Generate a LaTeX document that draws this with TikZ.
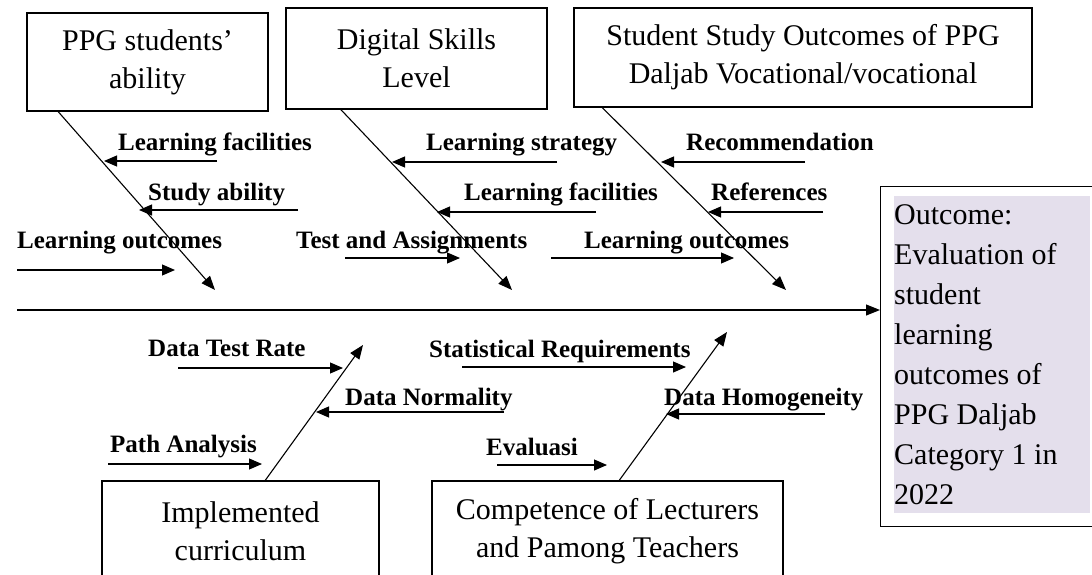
\documentclass[tikz,border=0pt]{standalone}
\usepackage{fontspec}
\setmainfont{Liberation Serif}
\usetikzlibrary{arrows.meta}
\definecolor{shade}{RGB}{228,223,236}
\tikzstyle{cause}=[draw=black,line width=1.1pt,align=center,inner sep=2pt,font=\fontsize{30}{38}\selectfont]
\tikzstyle{factor}=[anchor=base west,inner sep=0pt,font=\fontsize{25}{30}\selectfont\bfseries]
\tikzstyle{bone}=[line width=1.1pt,-{Triangle[length=14pt,width=11pt]}]
\tikzstyle{twig}=[line width=1.1pt,-{Triangle[length=13pt,width=11pt]}]
\tikzstyle{effect}=[draw=black,line width=1.1pt,anchor=north west,minimum width=230pt,minimum height=340pt]
\tikzstyle{shaded}=[fill=shade,anchor=north west,inner sep=0pt,text width=196pt,align=flush left,minimum height=317pt,font=\fontsize{30}{40}\selectfont]

\begin{document}
\begin{tikzpicture}[x=1pt,y=-1pt]
    \useasboundingbox (0,0) rectangle (1092,575);

    \node[cause,minimum width=241pt,minimum height=98pt] (ability) at (147.5,62) {PPG students'\\ability};
    \node[cause,minimum width=261pt,minimum height=101pt] (digital) at (416.5,58.5) {Digital Skills\\Level};
    \node[cause,minimum width=458pt,minimum height=99pt] (study) at (803,57.5) {Student Study Outcomes of PPG\\Daljab Vocational/vocational};
    \node[cause,minimum width=277pt,minimum height=100pt] (curriculum) at (240.5,531) {Implemented\\curriculum};
    \node[cause,minimum width=351pt,minimum height=100pt] (competence) at (607.5,531) {Competence of Lecturers\\and Pamong Teachers};

    \node[effect] (result) at (880,186) {};
    \node[shaded] (resulttext) at (894,196) {Outcome:\\Evaluation of\\student\\learning\\outcomes of\\PPG Daljab\\Category 1 in\\2022};

    \coordinate (tail) at (17,310);
    \draw[bone] (tail) -- (tail -| result.west);

    \coordinate (t1) at (215,290);
    \coordinate (t2) at (512,290);
    \coordinate (t3) at (786,290);
    \coordinate (t4) at (363,345);
    \coordinate (t5) at (727,332);
    \draw[bone] (ability.209) -- (t1);
    \draw[bone] (digital.214) -- (t2);
    \draw[bone] (study.194) -- (t3);
    \draw[bone] (curriculum.64) -- (t4);
    \draw[bone] (competence.77) -- (t5);

    \node[factor] (facil1) at (118,150) {Learning facilities};
    \coordinate (facil1a) at (217,161);
    \coordinate (facil1b) at (104,161);
    \draw[twig] (facil1a) -- (facil1b);

    \node[factor] (studyab) at (148,200) {Study ability};
    \coordinate (studyaba) at (298,210);
    \coordinate (studyabb) at (139,210);
    \draw[twig] (studyaba) -- (studyabb);

    \node[factor] (outc1) at (17,248) {Learning outcomes};
    \coordinate (outc1a) at (17,270);
    \coordinate (outc1b) at (175,270);
    \draw[twig] (outc1a) -- (outc1b);

    \node[factor] (strat) at (426,150) {Learning strategy};
    \coordinate (strata) at (557,162);
    \coordinate (stratb) at (392,162);
    \draw[twig] (strata) -- (stratb);

    \node[factor] (facil2) at (464,200) {Learning facilities};
    \coordinate (facil2a) at (596,212);
    \coordinate (facil2b) at (437,212);
    \draw[twig] (facil2a) -- (facil2b);

    \node[factor] (tests) at (296,248) {Test and Assignments};
    \coordinate (testsa) at (345,258);
    \coordinate (testsb) at (460,258);
    \draw[twig] (testsa) -- (testsb);

    \node[factor] (outc2) at (584,248) {Learning outcomes};
    \coordinate (outc2a) at (551,258);
    \coordinate (outc2b) at (734,258);
    \draw[twig] (outc2a) -- (outc2b);

    \node[factor] (recom) at (686,150) {Recommendation};
    \coordinate (recoma) at (805,162);
    \coordinate (recomb) at (661,162);
    \draw[twig] (recoma) -- (recomb);

    \node[factor] (refs) at (711,200) {References};
    \coordinate (refsa) at (823,212);
    \coordinate (refsb) at (708,212);
    \draw[twig] (refsa) -- (refsb);

    \node[factor] (rate) at (148,356) {Data Test Rate};
    \coordinate (ratea) at (178,368);
    \coordinate (rateb) at (343,368);
    \draw[twig] (ratea) -- (rateb);

    \node[factor] (normal) at (345,405) {Data Normality};
    \coordinate (normala) at (504,412);
    \coordinate (normalb) at (316,412);
    \draw[twig] (normala) -- (normalb);

    \node[factor] (path) at (110,452) {Path Analysis};
    \coordinate (patha) at (108,464);
    \coordinate (pathb) at (262,464);
    \draw[twig] (patha) -- (pathb);

    \node[factor] (statreq) at (429,357) {Statistical Requirements};
    \coordinate (statreqa) at (462,367);
    \coordinate (statreqb) at (686,367);
    \draw[twig] (statreqa) -- (statreqb);

    \node[factor] (homog) at (664,405) {Data Homogeneity};
    \coordinate (homoga) at (825,414);
    \coordinate (homogb) at (666,414);
    \draw[twig] (homoga) -- (homogb);

    \node[factor] (evalu) at (486,455) {Evaluasi};
    \coordinate (evalua) at (497,465);
    \coordinate (evalub) at (607,465);
    \draw[twig] (evalua) -- (evalub);
\end{tikzpicture}
\end{document}
